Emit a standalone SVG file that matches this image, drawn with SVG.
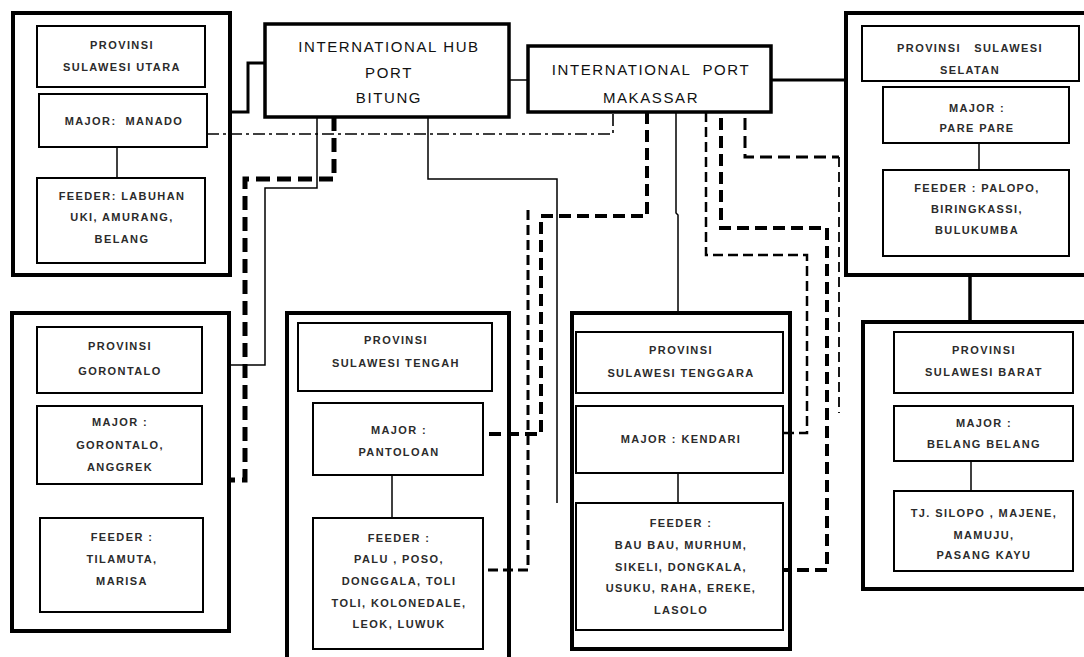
<svg xmlns="http://www.w3.org/2000/svg" width="1084" height="657" viewBox="0 0 1084 657">
<style>
.outer{fill:none;stroke:#000;stroke-width:4}
.inner{fill:#fff;stroke:#000;stroke-width:2}
.hub{fill:#fff;stroke:#000;stroke-width:3.5}
.t{font-family:"Liberation Sans",Arial,sans-serif;font-size:11px;font-weight:bold;fill:#2b2b2b;text-anchor:middle;letter-spacing:1.4px;white-space:pre}
.h{font-family:"Liberation Sans",Arial,sans-serif;font-size:15px;fill:#111;text-anchor:middle;letter-spacing:1.6px;white-space:pre}
.c{fill:none;stroke:#000;stroke-linejoin:miter}
</style>
<rect width="1084" height="657" fill="#fff"/>
<g id="connectors">
  <path class="c" d="M230,112 H248 V63 H265" stroke-width="3"/>
  <path class="c" d="M509,80 H528" stroke-width="1.5"/>
  <path class="c" d="M771,80 H846" stroke-width="3"/>
  <path class="c" d="M970,275 V322" stroke-width="3.5"/>
  <path class="c" d="M207,134 H613 V112" stroke-width="1.6" stroke-dasharray="12,4,3,4"/>
  <path class="c" d="M334,117 V179 H245 V480 H229" stroke-width="5" stroke-dasharray="14,7"/>
  <path class="c" d="M317,117 V188 H265 V365 H229" stroke-width="1.5"/>
  <path class="c" d="M428,117 V179 H557 V503" stroke-width="1.5"/>
  <path class="c" d="M647,112 V216 H541 V434 H483" stroke-width="4" stroke-dasharray="12,6"/>
  <path class="c" d="M528,210 V570 H483" stroke-width="3" stroke-dasharray="10,5"/>
  <path class="c" d="M676,112 V213 L678,215 V313" stroke-width="1.5"/>
  <path class="c" d="M706,112 V255 H807 V433 H783" stroke-width="2.5" stroke-dasharray="10,5"/>
  <path class="c" d="M721,118 V228 H827 V570 H783" stroke-width="4" stroke-dasharray="12,6"/>
  <path class="c" d="M745,118 V157 H839" stroke-width="3" stroke-dasharray="12,6"/>
  <path class="c" d="M839,157 V413" stroke-width="1.8" stroke-dasharray="10,5"/>
</g>
<g id="hub-bitung">
  <rect class="hub" x="265" y="24" width="244" height="93"/>
  <text class="h" x="389" y="52">INTERNATIONAL HUB</text>
  <text class="h" x="389" y="78">PORT</text>
  <text class="h" x="389" y="103">BITUNG</text>
</g>
<g id="port-makassar">
  <rect class="hub" x="528" y="46" width="243" height="66"/>
  <text class="h" x="651" y="75" xml:space="preserve">INTERNATIONAL  PORT</text>
  <text class="h" x="651" y="103">MAKASSAR</text>
</g>
<g id="sulut">
  <rect class="outer" x="13" y="13" width="217" height="262"/>
  <rect class="inner" x="37" y="26" width="168" height="61"/>
  <text class="t" x="122" y="49">PROVINSI</text>
  <text class="t" x="122" y="71">SULAWESI UTARA</text>
  <rect class="inner" x="39" y="94" width="168" height="53"/>
  <text class="t" x="124" y="125" xml:space="preserve">MAJOR:  MANADO</text>
  <line x1="117" y1="147" x2="117" y2="178" stroke="#000" stroke-width="1.5"/>
  <rect class="inner" x="37" y="178" width="168" height="85"/>
  <text class="t" x="122" y="200">FEEDER: LABUHAN</text>
  <text class="t" x="122" y="221">UKI, AMURANG,</text>
  <text class="t" x="122" y="243">BELANG</text>
</g>
<g id="gorontalo">
  <rect class="outer" x="12" y="313" width="217" height="318"/>
  <rect class="inner" x="37" y="327" width="165" height="66"/>
  <text class="t" x="120" y="350">PROVINSI</text>
  <text class="t" x="120" y="375">GORONTALO</text>
  <rect class="inner" x="37" y="406" width="165" height="78"/>
  <text class="t" x="120" y="426">MAJOR :</text>
  <text class="t" x="120" y="449">GORONTALO,</text>
  <text class="t" x="120" y="471">ANGGREK</text>
  <rect class="inner" x="40" y="518" width="163" height="94"/>
  <text class="t" x="122" y="541">FEEDER :</text>
  <text class="t" x="122" y="563">TILAMUTA,</text>
  <text class="t" x="122" y="585">MARISA</text>
</g>
<g id="sulteng">
  <rect class="outer" x="287" y="313" width="222" height="350"/>
  <rect class="inner" x="298" y="323" width="194" height="68"/>
  <text class="t" x="396" y="344">PROVINSI</text>
  <text class="t" x="396" y="367">SULAWESI TENGAH</text>
  <rect class="inner" x="313" y="403" width="170" height="72"/>
  <text class="t" x="399" y="434">MAJOR :</text>
  <text class="t" x="399" y="456">PANTOLOAN</text>
  <line x1="392" y1="475" x2="392" y2="518" stroke="#000" stroke-width="1.5"/>
  <rect class="inner" x="313" y="518" width="170" height="131"/>
  <text class="t" x="399" y="542">FEEDER :</text>
  <text class="t" x="399" y="563">PALU , POSO,</text>
  <text class="t" x="399" y="585">DONGGALA, TOLI</text>
  <text class="t" x="399" y="607">TOLI, KOLONEDALE,</text>
  <text class="t" x="399" y="628">LEOK, LUWUK</text>
</g>
<g id="sultra">
  <rect class="outer" x="572" y="313" width="218" height="336"/>
  <rect class="inner" x="576" y="332" width="207" height="61"/>
  <text class="t" x="681" y="354">PROVINSI</text>
  <text class="t" x="681" y="377">SULAWESI TENGGARA</text>
  <rect class="inner" x="576" y="406" width="207" height="67"/>
  <text class="t" x="681" y="443">MAJOR : KENDARI</text>
  <line x1="678" y1="473" x2="678" y2="503" stroke="#000" stroke-width="1.5"/>
  <rect class="inner" x="576" y="503" width="207" height="127"/>
  <text class="t" x="681" y="527">FEEDER :</text>
  <text class="t" x="681" y="549">BAU BAU, MURHUM,</text>
  <text class="t" x="681" y="571">SIKELI, DONGKALA,</text>
  <text class="t" x="681" y="592">USUKU, RAHA, EREKE,</text>
  <text class="t" x="681" y="614">LASOLO</text>
</g>
<g id="sulsel">
  <rect class="outer" x="846" y="13" width="242" height="262"/>
  <rect class="inner" x="862" y="26" width="217" height="55"/>
  <text class="t" x="970" y="52" xml:space="preserve">PROVINSI   SULAWESI</text>
  <text class="t" x="970" y="74">SELATAN</text>
  <rect class="inner" x="883" y="87" width="186" height="56"/>
  <text class="t" x="977" y="112">MAJOR :</text>
  <text class="t" x="977" y="132">PARE PARE</text>
  <line x1="979" y1="143" x2="979" y2="170" stroke="#000" stroke-width="1.5"/>
  <rect class="inner" x="883" y="170" width="186" height="86"/>
  <text class="t" x="977" y="192">FEEDER : PALOPO,</text>
  <text class="t" x="977" y="213">BIRINGKASSI,</text>
  <text class="t" x="977" y="234">BULUKUMBA</text>
</g>
<g id="sulbar">
  <rect class="outer" x="863" y="322" width="225" height="267"/>
  <rect class="inner" x="894" y="332" width="179" height="61"/>
  <text class="t" x="984" y="354">PROVINSI</text>
  <text class="t" x="984" y="376">SULAWESI BARAT</text>
  <rect class="inner" x="894" y="406" width="179" height="55"/>
  <text class="t" x="984" y="427">MAJOR :</text>
  <text class="t" x="984" y="448">BELANG BELANG</text>
  <line x1="971" y1="461" x2="971" y2="491" stroke="#000" stroke-width="1.5"/>
  <rect class="inner" x="894" y="491" width="179" height="80"/>
  <text class="t" x="984" y="517">TJ. SILOPO , MAJENE,</text>
  <text class="t" x="984" y="539">MAMUJU,</text>
  <text class="t" x="984" y="559">PASANG KAYU</text>
</g>
</svg>
